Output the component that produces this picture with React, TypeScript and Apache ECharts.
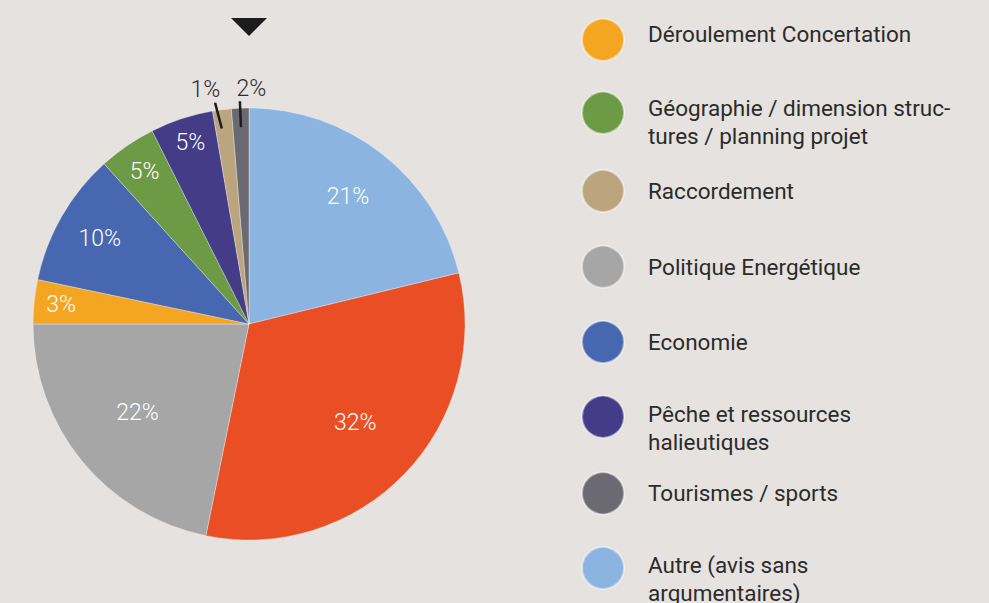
import React, { useEffect, useRef } from "react";
import * as echarts from "echarts";

// ---- data (clockwise from 12 o'clock) ----
const sliceNames = [
  "Autre (avis sans argumentaires)",
  "Environnement",
  "Politique Energétique",
  "Déroulement Concertation",
  "Economie",
  "Géographie / dimension structures / planning projet",
  "Pêche et ressources halieutiques",
  "Raccordement",
  "Tourismes / sports",
];
const sliceValues = [21.2, 32.0, 21.8, 3.3, 10.0, 4.3, 4.7, 1.4, 1.3];
const sliceLabels = ["21%", "32%", "22%", "3%", "10%", "5%", "5%", "1%", "2%"];
const sliceColors = [
  "#8bb5e0",
  "#e94e25",
  "#a6a6a6",
  "#f4a522",
  "#4768b0",
  "#6d9b45",
  "#443c87",
  "#bba57f",
  "#6b6a72",
];

// legend (order as shown, right column)
const legendNames = [
  "Déroulement Concertation",
  "Géographie / dimension structures / planning projet",
  "Raccordement",
  "Politique Energétique",
  "Economie",
  "Pêche et ressources halieutiques",
  "Tourismes / sports",
  "Autre (avis sans argumentaires)",
];
const legendLines = [
  ["Déroulement Concertation"],
  ["Géographie / dimension struc-", "tures / planning projet"],
  ["Raccordement"],
  ["Politique Energétique"],
  ["Economie"],
  ["Pêche et ressources", "halieutiques"],
  ["Tourismes / sports"],
  ["Autre (avis sans", "argumentaires)"],
];

// ---- layout / style ----
const CX = 249;
const CY = 324;
const R = 216;
const OUTSIDE_FROM = 7;
const labelRadius = [162, 142, 140, 190, 171, 185, 191, 236, 236];
const labelShiftX = [-1, 4, -3, 1, -1, 0, 1, -14, 12];
const leaderTopShiftX = [0, 0, 0, 0, 0, 0, 0, -6, 0];
const leaderBottomShiftX = [0, 0, 0, 0, 0, 0, 0, -2.5, 0];
const legendCenters = [38.7, 114.3, 190, 265.7, 341, 416.7, 492.3, 568];
const legendTextPad = [11, 19, 0, 0, 0, 22, 0, 22];
const legendTopOffset = [21, 36.5, 21, 21, 21, 36.5, 21, 36.5];
const FONT = "Roboto, 'Noto Sans', sans-serif";
const TXT = "#2b2b2b";

export default function App() {
  const ref = useRef<HTMLDivElement>(null);

  useEffect(() => {
    document.body.style.margin = "0";
    const chart = echarts.init(ref.current!, null, { renderer: "svg" });
    const total = sliceValues.reduce((a, b) => a + b, 0);
    const midAngles: number[] = [];
    let acc = 0;
    for (const v of sliceValues) {
      midAngles.push(((acc + v / 2) / total) * Math.PI * 2);
      acc += v;
    }
    const polar = (r: number, a: number, dx = 0) => [CX + r * Math.sin(a) + dx, CY - r * Math.cos(a)];

    const legends = legendNames.map((name, i) => {
      const lines = legendLines[i];
      const twoLine = lines.length > 1;
      const p = legendTextPad[i];
      const tok = {
        fontFamily: FONT,
        fontSize: 22.5,
        color: TXT,
        lineHeight: twoLine ? 28 : 26,
        padding: twoLine ? [p, 0, 0, 0] : [0, 0, p, 0],
      };
      return {
        data: [name],
        left: 581,
        top: legendCenters[i] - legendTopOffset[i],
        orient: "vertical",
        padding: 0,
        icon: "circle",
        itemWidth: 42,
        itemHeight: 42,
        selectedMode: false,
        formatter: () => lines.map((l) => `{t|${l}}`).join("\n"),
        textStyle: {
          fontFamily: FONT,
          fontSize: 22.5,
          color: TXT,
          padding: [0, 0, 0, 19],
          rich: { t: tok },
        },
      };
    });

    const baseData = sliceNames.map((name, i) => ({
      name,
      value: sliceValues[i],
    }));

    chart.setOption({
      animation: false,
      backgroundColor: "#e6e2df",
      legend: legends,
      graphic: [
        {
          type: "polygon",
          shape: { points: [[231, 18], [267, 18], [249, 36]] },
          style: { fill: "#1c1c1c" },
        },
      ],
      series: [
        {
          type: "pie",
          center: [CX, CY],
          radius: [0, R],
          startAngle: 90,
          clockwise: true,
          avoidLabelOverlap: false,
          itemStyle: { borderColor: "rgba(255,255,255,0.45)", borderWidth: 0.7 },
          data: baseData.map((d, i) => ({
            ...d,
            itemStyle: { color: sliceColors[i] },
            label: {
              show: i < OUTSIDE_FROM,
              position: "inside",
              formatter: () => sliceLabels[i],
              color: "#ffffff",
              fontFamily: FONT,
              fontSize: 23,
              fontWeight: 300,
            },
            labelLine: { show: false },
          })),
          labelLayout: (params: any) => {
            const i = params.dataIndex;
            const [x, y] = polar(labelRadius[i], midAngles[i], labelShiftX[i]);
            return { x, y, align: "center", verticalAlign: "middle" };
          },
        },
        {
          // overlay carrying the small outside labels and their leader lines
          type: "pie",
          z: 5,
          silent: true,
          center: [CX, CY],
          radius: [0, R],
          startAngle: 90,
          clockwise: true,
          avoidLabelOverlap: false,
          itemStyle: { color: "rgba(0,0,0,0)", borderWidth: 0 },
          data: baseData.map((d, i) => {
            const outside = i >= OUTSIDE_FROM;
            return {
              ...d,
              label: {
                show: outside,
                position: "outside",
                formatter: () => sliceLabels[i],
                color: TXT,
                fontFamily: FONT,
                fontSize: 23,
                fontWeight: 300,
              },
              labelLine: {
                show: outside,
                length: 10,
                length2: 0,
                lineStyle: { color: "#1c1c1c", width: 2.5 },
              },
            };
          }),
          labelLayout: (params: any) => {
            const i = params.dataIndex;
            const a = midAngles[i];
            const [x, y] = polar(labelRadius[i], a, labelShiftX[i]);
            const mid = (leaderTopShiftX[i] + leaderBottomShiftX[i]) / 2;
            return {
              x,
              y,
              align: "center",
              verticalAlign: "middle",
              labelLinePoints: [
                polar(197, a, leaderBottomShiftX[i]),
                polar(210, a, mid),
                polar(223, a, leaderTopShiftX[i]),
              ],
            };
          },
        },
      ],
    });
    return () => chart.dispose();
  }, []);

  return <div ref={ref} style={{ width: 989, height: 603 }} />;
}
